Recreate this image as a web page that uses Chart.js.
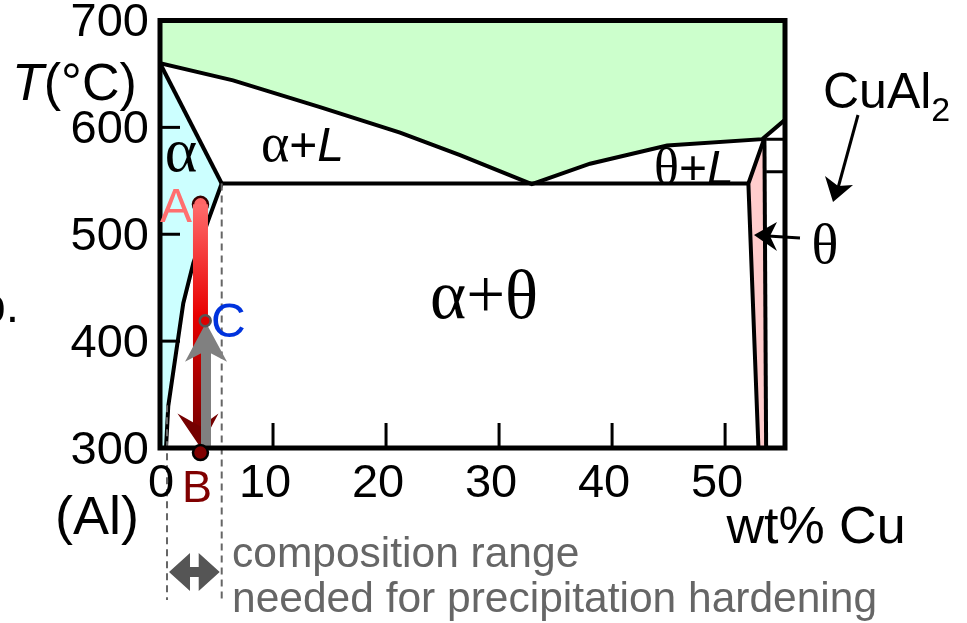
<!DOCTYPE html>
<html><head><meta charset="utf-8">
<script src="https://cdn.jsdelivr.net/npm/chart.js@4/dist/chart.umd.min.js"></script>
<style>html,body{margin:0;padding:0;background:#fff;overflow:hidden}canvas{display:block}</style>
</head><body>
<canvas id="c" width="967" height="623"></canvas>
<script>
// ---- data (wt% Cu, temperature °C) ----
const xTickValues = [0, 10, 20, 30, 40, 50];
const xTickLabels = ['0', '10', '20', '30', '40', '50'];
const yTickValues = [300, 400, 500, 600, 700];
const yTickLabels = ['300', '400', '500', '600', '700'];
const liquidus = [[0,660],[6.46,644],[14.16,619],[21.24,595],[26.55,574],[32.9,547],[38.05,566],[44.87,583],[53.3,589],[55.3,607]];
const alphaSolidus = [[0,660],[5.46,547.5]];
const alphaSolvus = [[5.46,547.5],[4.27,513],[2.95,473],[2.06,435.5],[0.73,339],[0.53,300]];
const eutecticLine = [[5.46,547.5],[52.06,547.5]];
const thetaLeft = [[53.48,590],[52.06,547.5],[52.95,300]];
const thetaRight = [[53.48,590],[53.63,300]];
const rightLine1 = [[53.63,589],[55.3,589]];
const rightLine2 = [[53.63,558.5],[55.3,558.5]];
const pointA = [3.58, 528];
const pointB = [3.58, 295.7];
const pointC = [4.0, 419];
const grayArrowBase = [4.07, 302];
const rangeLimits = [[0.62, 340], [5.46, 547.5]];

const SANS = '"Liberation Sans", Arial, sans-serif';
const SERIF = '"Liberation Serif", "Times New Roman", serif';

const alphaPoly = [[0,300]].concat(alphaSolidus, alphaSolvus.slice(1));
const thetaPoly = [thetaLeft[0], thetaLeft[1], thetaLeft[2], thetaRight[1]];

function ds(data, opts) {
  return Object.assign({ data: data, showLine: true, pointRadius: 0, pointHoverRadius: 0, tension: 0,
    borderColor: '#000', borderWidth: 4, fill: false, order: 1 }, opts || {});
}

const overlay = {
  id: 'overlay',
  afterDatasetsDraw(chart) {
    const ctx = chart.ctx, xs = chart.scales.x, ys = chart.scales.y, a = chart.chartArea;
    const px = v => xs.getPixelForValue(v), py = v => ys.getPixelForValue(v);
    ctx.save();
    // dashed composition limits
    ctx.strokeStyle = '#666'; ctx.lineWidth = 2; ctx.setLineDash([7, 5]);
    rangeLimits.forEach(p => { ctx.beginPath(); ctx.moveTo(px(p[0]), py(p[1])); ctx.lineTo(px(p[0]), 600); ctx.stroke(); });
    ctx.setLineDash([]);
    // A circle
    const ax = px(pointA[0]), ay = py(pointA[1]), by = py(pointB[1]);
    ctx.beginPath(); ctx.arc(ax, ay, 7.5, 0, Math.PI * 2); ctx.fillStyle = '#ff6666'; ctx.fill();
    ctx.lineWidth = 2.5; ctx.strokeStyle = '#300'; ctx.stroke();
    // red gradient bar
    const g = ctx.createLinearGradient(0, ay, 0, by);
    g.addColorStop(0, '#ff6b6b'); g.addColorStop(0.45, '#e80000'); g.addColorStop(0.75, '#a00000'); g.addColorStop(1, '#680000');
    ctx.fillStyle = g; ctx.fillRect(ax - 7.5, ay, 15, (by - 18) - ay);
    // red arrow head
    ctx.fillStyle = '#750000';
    ctx.beginPath(); ctx.moveTo(ax, by - 5); ctx.lineTo(ax - 23, by - 39); ctx.lineTo(ax, by - 26); ctx.lineTo(ax + 18, by - 39); ctx.closePath(); ctx.fill();
    // gray arrow
    const gx = px(grayArrowBase[0]), gy0 = py(grayArrowBase[1]), cy = py(pointC[1]);
    ctx.fillStyle = '#808080';
    ctx.fillRect(gx - 5, cy + 28, 10, gy0 - (cy + 28));
    ctx.beginPath(); ctx.moveTo(gx, cy + 2); ctx.lineTo(gx + 21, cy + 41); ctx.lineTo(gx, cy + 30); ctx.lineTo(gx - 21, cy + 41); ctx.closePath(); ctx.fill();
    // C circle
    ctx.beginPath(); ctx.arc(px(pointC[0]), cy, 5.5, 0, Math.PI * 2); ctx.fillStyle = '#dd0000'; ctx.fill();
    ctx.lineWidth = 2.5; ctx.strokeStyle = '#555'; ctx.stroke();
    // frame
    ctx.strokeStyle = '#000'; ctx.lineWidth = 5;
    ctx.strokeRect(a.left, a.top, a.right - a.left, a.bottom - a.top);
    // inner ticks
    ctx.lineWidth = 3;
    yTickValues.forEach(v => { if (v > 300 && v < 700) { ctx.beginPath(); ctx.moveTo(a.left, py(v)); ctx.lineTo(a.left + 20, py(v)); ctx.stroke(); } });
    xTickValues.forEach(v => { if (v > 0) { ctx.beginPath(); ctx.moveTo(px(v), a.bottom); ctx.lineTo(px(v), a.bottom - 25); ctx.stroke(); } });
    // B circle
    ctx.beginPath(); ctx.arc(ax, by, 7.5, 0, Math.PI * 2); ctx.fillStyle = '#800000'; ctx.fill();
    ctx.lineWidth = 2.5; ctx.strokeStyle = '#000'; ctx.stroke();

    // tick labels
    ctx.fillStyle = '#000'; ctx.font = '47px ' + SANS;
    ctx.textAlign = 'right'; ctx.textBaseline = 'middle';
    yTickValues.forEach((v, i) => ctx.fillText(yTickLabels[i], 149, py(v) + 3));
    ctx.textAlign = 'center'; ctx.textBaseline = 'alphabetic';
    xTickValues.forEach((v, i) => ctx.fillText(xTickLabels[i], px(v) + (v === 0 ? 1 : -8), 497));

    function txt(s, x, y, font, color, align) {
      ctx.font = font; ctx.fillStyle = color || '#000'; ctx.textAlign = align || 'left'; ctx.textBaseline = 'alphabetic';
      ctx.fillText(s, x, y);
    }
    function runs(list, x, y) {
      ctx.textAlign = 'left'; ctx.textBaseline = 'alphabetic';
      list.forEach(r => { ctx.font = r[1]; ctx.fillStyle = r[2] || '#000'; ctx.fillText(r[0], x, y + (r[3] || 0)); x += ctx.measureText(r[0]).width; });
    }
    // axis titles
    runs([['T', 'italic 52px ' + SANS], ['(°C)', '52px ' + SANS]], 12, 100);
    txt('(Al)', 97, 534, '54px ' + SANS, '#000', 'center');
    txt('wt% Cu', 816, 543, '52px ' + SANS, '#000', 'center');
    txt('b.', 19, 322, '48px ' + SANS, '#000', 'right');
    // region labels
    txt('\u03b1', px(1.86), 171, '62px ' + SERIF, '#000', 'center');
    runs([['\u03b1', '54px ' + SERIF], ['+', '48px ' + SANS], ['L', 'italic 48px ' + SANS]], 261, 161);
    runs([['\u03b8', '52px ' + SERIF], ['+', '48px ' + SANS], ['L', 'italic 48px ' + SANS]], 654, 184);
    runs([['\u03b1+\u03b8', '69px ' + SERIF]], 430, 318);
    txt('A', 160, 222, '48px ' + SANS, '#ff6f6f');
    txt('C', 211, 337, '48px ' + SANS, '#0033dd');
    txt('B', 197, 502, '45px ' + SANS, '#800000', 'center');
    // CuAl2 and theta annotation
    runs([['CuAl', '50px ' + SANS], ['2', '34px ' + SANS, '#000', 13]], 823, 108);
    txt('\u03b8', 825, 263, '56px ' + SERIF, '#000', 'center');
    ctx.strokeStyle = '#000'; ctx.fillStyle = '#000'; ctx.lineWidth = 3;
    ctx.beginPath(); ctx.moveTo(858, 115); ctx.lineTo(838, 188); ctx.stroke();
    ctx.beginPath(); ctx.moveTo(833, 202); ctx.lineTo(825, 176); ctx.lineTo(838, 186); ctx.lineTo(853, 185); ctx.closePath(); ctx.fill();
    ctx.beginPath(); ctx.moveTo(800, 238); ctx.lineTo(768, 236); ctx.stroke();
    ctx.beginPath(); ctx.moveTo(754, 235); ctx.lineTo(777, 222); ctx.lineTo(770, 236); ctx.lineTo(777, 251); ctx.closePath(); ctx.fill();
    // composition range note
    ctx.fillStyle = '#555';
    const ry = 572, rl = px(rangeLimits[0][0]) + 2, rr = px(rangeLimits[1][0]) - 2;
    ctx.beginPath();
    ctx.moveTo(rl, ry); ctx.lineTo(rl + 21, ry - 19); ctx.lineTo(rl + 21, ry - 5); ctx.lineTo(rr - 21, ry - 5); ctx.lineTo(rr - 21, ry - 19);
    ctx.lineTo(rr, ry); ctx.lineTo(rr - 21, ry + 19); ctx.lineTo(rr - 21, ry + 5); ctx.lineTo(rl + 21, ry + 5); ctx.lineTo(rl + 21, ry + 19); ctx.closePath(); ctx.fill();
    txt('composition range', 232, 567, '42.5px ' + SANS, '#666');
    txt('needed for precipitation hardening', 232, 612, '42.5px ' + SANS, '#666');
    ctx.restore();
  }
};

new Chart(document.getElementById('c'), {
  type: 'scatter',
  data: { datasets: [
    ds(liquidus, { fill: 'end', backgroundColor: '#ccffcc', order: 5 }),
    ds(alphaPoly, { fill: 'shape', backgroundColor: '#ccffff', borderWidth: 0, borderColor: 'rgba(0,0,0,0)', order: 6 }),
    ds(thetaPoly, { fill: 'shape', backgroundColor: '#ffcccc', borderWidth: 0, borderColor: 'rgba(0,0,0,0)', order: 6 }),
    ds(alphaSolidus), ds(alphaSolvus), ds(eutecticLine), ds(thetaLeft), ds(thetaRight),
    ds(rightLine1, { borderWidth: 3 }), ds(rightLine2, { borderWidth: 3 })
  ] },
  options: {
    responsive: false, animation: false, devicePixelRatio: 1,
    layout: { padding: { left: 160, top: 20.5, right: 182, bottom: 175 } },
    plugins: { legend: { display: false }, tooltip: { enabled: false }, filler: { propagate: false } },
    scales: {
      x: { type: 'linear', min: 0, max: 55.3, display: false },
      y: { type: 'linear', min: 300, max: 700, display: false }
    }
  },
  plugins: [overlay]
});
</script>
</body></html>
